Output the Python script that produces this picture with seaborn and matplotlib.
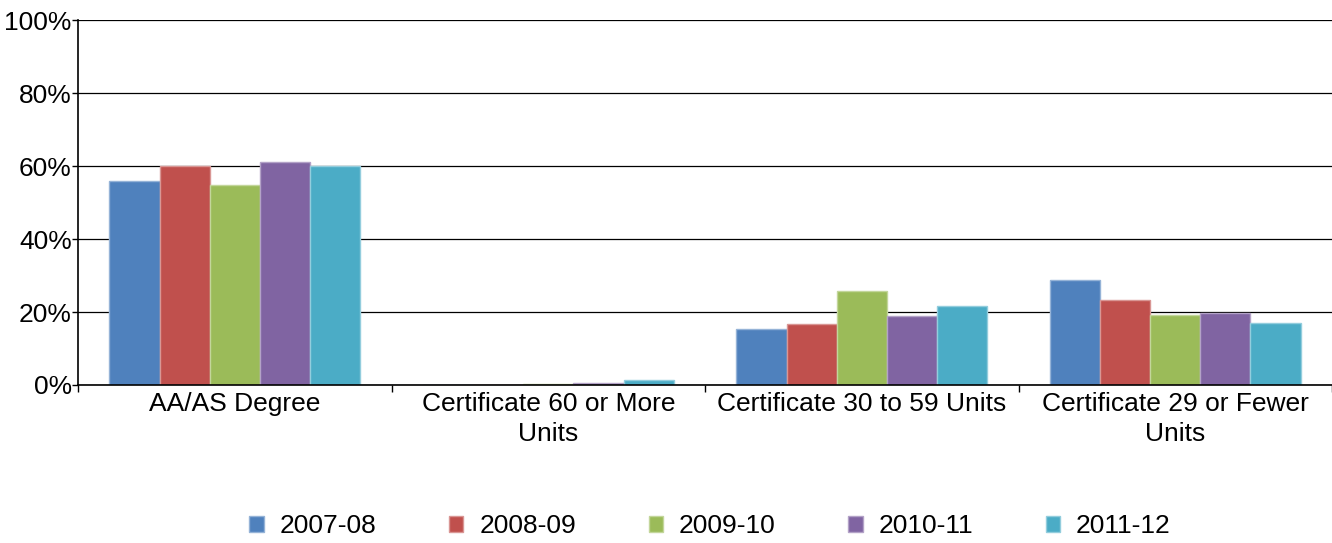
import numpy as np
import pandas as pd
import matplotlib
matplotlib.use("Agg")
import matplotlib.pyplot as plt
import matplotlib.colors as mcolors
import seaborn as sns

# categorias y series
categories = ["AA/AS Degree", "Certificate 60 or More\nUnits",
              "Certificate 30 to 59 Units", "Certificate 29 or Fewer\nUnits"]
years = ["2007-08", "2008-09", "2009-10", "2010-11", "2011-12"]
pct_2007 = [56.0, 0.0, 15.3, 28.8]
pct_2008 = [60.0, 0.0, 16.7, 23.3]
pct_2009 = [54.8, 0.3, 25.8, 19.2]
pct_2010 = [61.2, 0.6, 18.9, 19.7]
pct_2011 = [60.0, 1.5, 21.6, 17.0]
yticks = [0, 20, 40, 60, 80, 100]

colors = ["#4F81BD", "#C0504D", "#9BBB59", "#8064A2", "#4BACC6"]

series = [pct_2007, pct_2008, pct_2009, pct_2010, pct_2011]
rows = []
for year, vals in zip(years, series):
    for cat, v in zip(categories, vals):
        rows.append({"category": cat, "year": year, "value": v})
df = pd.DataFrame(rows)

sns.set_style("white")
plt.rcParams["font.family"] = ["Liberation Sans", "DejaVu Sans"]
plt.rcParams["text.color"] = "black"
plt.rcParams["xtick.color"] = "black"
plt.rcParams["ytick.color"] = "black"

fs = 19

fig = plt.figure(figsize=(13.32, 5.43), dpi=100)
ax = fig.add_axes([0.0586, 0.291, 0.9414, 0.672])

sns.barplot(data=df, x="category", y="value", hue="year", order=categories,
            hue_order=years, palette=colors, width=0.8, saturation=1,
            ax=ax, legend=True)

# bordes claros en las barras
for patch in ax.patches:
    fc = np.array(mcolors.to_rgb(patch.get_facecolor()))
    edge = fc + (1 - fc) * 0.4
    patch.set_edgecolor(edge)
    patch.set_linewidth(1.0)

ax.set_ylim(0, 100)
ax.set_xlim(-0.5, len(categories) - 0.5)
ax.set_yticks(yticks)
ax.set_yticklabels([f"{t}%" for t in yticks], fontsize=fs)
ax.set_xticks(range(len(categories)))
ax.set_xticklabels(categories, fontsize=fs, linespacing=1.3)
ax.set_xticks(np.arange(-0.5, len(categories), 1.0), minor=True)
ax.tick_params(axis="x", which="major", length=0, pad=5, bottom=True)
ax.tick_params(axis="x", which="minor", length=5, color="black", width=1,
               direction="out", bottom=True)
ax.tick_params(axis="y", length=4, color="black", width=1, direction="out",
               pad=0.5, left=True)
ax.set_xlabel("")
ax.set_ylabel("")

ax.yaxis.grid(True, color="black", linewidth=0.9)
ax.set_axisbelow(True)
for s in ["top", "right"]:
    ax.spines[s].set_visible(False)
for s in ["left", "bottom"]:
    ax.spines[s].set_color("black")
    ax.spines[s].set_linewidth(1.2)

handles, labels = ax.get_legend_handles_labels()
ax.get_legend().remove()
fig.legend(handles, labels, loc="center", bbox_to_anchor=(710 / 1332, 0.031),
           ncol=5, frameon=False, fontsize=fs, handlelength=0.55,
           handleheight=0.55, handletextpad=0.6, columnspacing=2.75)

fig.savefig("out.png", dpi=100)
